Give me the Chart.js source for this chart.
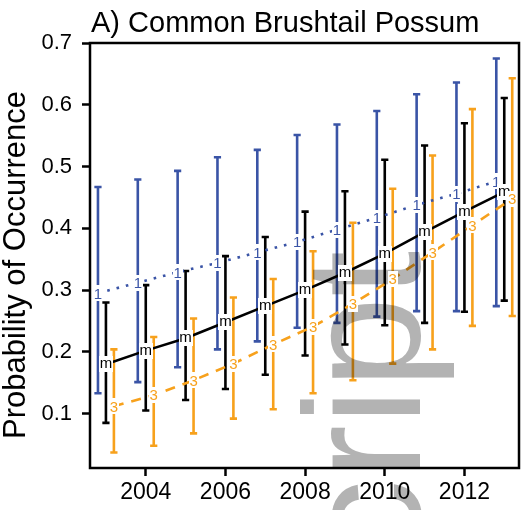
<!DOCTYPE html>
<html>
<head>
<meta charset="utf-8">
<script src="https://cdn.jsdelivr.net/npm/chart.js@4.4.1/dist/chart.umd.min.js"></script>
<style>
html,body{margin:0;padding:0;background:#fff;}
#wrap{width:522px;height:510px;}
</style>
</head>
<body>
<div id="wrap"><canvas id="c" width="522" height="510"></canvas></div>
<script>
// ---- data ----
const years = [2003, 2004, 2005, 2006, 2007, 2008, 2009, 2010, 2011, 2012, 2013];
const xTickValues = [2004, 2006, 2008, 2010, 2012];
const yTickValues = [0.1, 0.2, 0.3, 0.4, 0.5, 0.6, 0.7];
const titleText = 'A) Common Brushtail Possum';
const yAxisTitle = 'Probability of Occurrence';

// series "1" (blue, dotted)
const fit1 = [0.295, 0.312, 0.329, 0.344, 0.361, 0.378, 0.398, 0.417, 0.438, 0.456, 0.476];
const lo1  = [0.133, 0.151, 0.175, 0.204, 0.217, 0.239, 0.247, 0.257, 0.266, 0.266, 0.274];
const hi1  = [0.467, 0.479, 0.493, 0.515, 0.527, 0.551, 0.568, 0.590, 0.617, 0.636, 0.675];

// series "m" (black, solid)
const fitM = [0.180, 0.202, 0.222, 0.248, 0.274, 0.300, 0.328, 0.359, 0.394, 0.427, 0.459];
const loM  = [0.085, 0.105, 0.122, 0.140, 0.163, 0.194, 0.212, 0.243, 0.247, 0.265, 0.283];
const hiM  = [0.280, 0.308, 0.331, 0.355, 0.386, 0.427, 0.460, 0.511, 0.534, 0.570, 0.611];

// series "3" (orange, dashed)
const fit3 = [0.112, 0.130, 0.154, 0.181, 0.212, 0.241, 0.278, 0.318, 0.361, 0.405, 0.448];
const lo3  = [0.037, 0.048, 0.068, 0.092, 0.107, 0.133, 0.154, 0.181, 0.204, 0.242, 0.258];
const hi3  = [0.204, 0.224, 0.254, 0.288, 0.318, 0.363, 0.409, 0.464, 0.518, 0.593, 0.643];

const watermarkText = 'script';

// ---- styling ----
const BLUE = '#3a54a6';
const BLACK = '#000000';
const ORANGE = '#f7a11c';
const FONT = '"Liberation Sans", Arial, Helvetica, sans-serif';

function mk(fit, off) { return years.map((yr, i) => ({ x: yr + off, y: fit[i] })); }

const datasets = [
  { label: '1', data: mk(fit1, -0.2), lo: lo1, hi: hi1, off: -0.2, mark: '1',
    borderColor: BLUE, borderWidth: 2.6, borderDash: [2.6, 7], pointRadius: 0, tension: 0, fill: false },
  { label: 'm', data: mk(fitM, 0), lo: loM, hi: hiM, off: 0, mark: 'm',
    borderColor: BLACK, borderWidth: 2.6, borderDash: [], pointRadius: 0, tension: 0, fill: false },
  { label: '3', data: mk(fit3, 0.2), lo: lo3, hi: hi3, off: 0.2, mark: '3',
    borderColor: ORANGE, borderWidth: 2.6, borderDash: [10, 8], pointRadius: 0, tension: 0, fill: false }
];

const decor = {
  id: 'decor',
  beforeDraw(chart) {
    const { ctx, width, height } = chart;
    ctx.save();
    ctx.fillStyle = '#fff';
    ctx.fillRect(0, 0, width, height);
    ctx.restore();
  },
  beforeDatasetsDraw(chart) {
    const { ctx, scales: { x, y } } = chart;
    ctx.save();
    chart.data.datasets.forEach(ds => {
      ctx.strokeStyle = ds.borderColor;
      ctx.lineWidth = 2.6;
      ctx.lineCap = 'butt';
      years.forEach((yr, i) => {
        const px = x.getPixelForValue(yr + ds.off);
        const pl = y.getPixelForValue(ds.lo[i]);
        const ph = y.getPixelForValue(ds.hi[i]);
        ctx.beginPath();
        ctx.moveTo(px, pl); ctx.lineTo(px, ph);
        ctx.moveTo(px - 3.6, pl); ctx.lineTo(px + 3.6, pl);
        ctx.moveTo(px - 3.6, ph); ctx.lineTo(px + 3.6, ph);
        ctx.stroke();
      });
    });
    ctx.restore();
  },
  afterDatasetsDraw(chart) {
    const { ctx, scales: { x, y } } = chart;
    // watermark
    ctx.save();
    ctx.globalCompositeOperation = 'multiply';
    ctx.fillStyle = '#b3b3b3';
    ctx.font = '165px ' + FONT;
    ctx.translate(420, 645);
    ctx.rotate(-Math.PI / 2);
    ctx.textAlign = 'left';
    ctx.textBaseline = 'alphabetic';
    ctx.fillText(watermarkText, 0, 0);
    ctx.restore();
    // point labels with white knock-out boxes
    ctx.save();
    ctx.globalCompositeOperation = 'source-over';
    const fs = 15;
    ctx.font = fs + 'px ' + FONT;
    ctx.textAlign = 'center';
    ctx.textBaseline = 'alphabetic';
    chart.data.datasets.forEach(ds => {
      ds.data.forEach(p => {
        const px = x.getPixelForValue(p.x);
        const py = y.getPixelForValue(p.y);
        const w = Math.ceil(ctx.measureText(ds.mark).width) + 1;
        const bx = Math.round(px - w / 2);
        const by = Math.round(py - 8);
        ctx.fillStyle = '#ffffff';
        ctx.fillRect(bx, by, w, 16);
        ctx.fillStyle = ds.borderColor;
        const dy = ds.mark === 'm' ? 0.26 * fs : 0.358 * fs;
        ctx.fillText(ds.mark, px, py + dy);
      });
    });
    ctx.restore();
  },
  afterDraw(chart) {
    const { ctx, chartArea: a } = chart;
    ctx.save();
    ctx.strokeStyle = '#000';
    ctx.lineWidth = 2.5;
    ctx.strokeRect(a.left, a.top, a.right - a.left, a.bottom - a.top);
    // title
    ctx.fillStyle = '#000';
    ctx.font = '29px ' + FONT;
    ctx.textAlign = 'left';
    ctx.textBaseline = 'alphabetic';
    ctx.fillText(titleText, 91, 32);
    // y axis title
    ctx.font = '31px ' + FONT;
    ctx.translate(25, 265);
    ctx.rotate(-Math.PI / 2);
    ctx.textAlign = 'center';
    ctx.fillText(yAxisTitle, 0, 0);
    ctx.restore();
  }
};

new Chart(document.getElementById('c'), {
  type: 'line',
  data: { datasets },
  plugins: [decor],
  options: {
    responsive: false,
    animation: false,
    events: [],
    layout: { padding: { top: 43, right: 3, left: 0, bottom: 0 } },
    plugins: { legend: { display: false }, tooltip: { enabled: false }, title: { display: false } },
    scales: {
      x: {
        type: 'linear',
        min: 2002.6,
        max: 2013.37,
        afterFit(s) { s.height = 42; },
        afterBuildTicks(s) { s.ticks = xTickValues.map(v => ({ value: v })); },
        grid: { drawOnChartArea: false, drawTicks: true, tickLength: 8, tickWidth: 2.5, tickColor: '#000' },
        border: { display: false },
        ticks: { color: '#000', font: { family: FONT, size: 23 }, padding: 3, maxRotation: 0,
                 callback: v => String(v) }
      },
      y: {
        type: 'linear',
        min: 0.012,
        max: 0.7,
        afterFit(s) { s.width = 90; },
        afterBuildTicks(s) { s.ticks = yTickValues.map(v => ({ value: v })); },
        grid: { drawOnChartArea: false, drawTicks: true, tickLength: 8, tickWidth: 2.5, tickColor: '#000' },
        border: { display: false },
        ticks: { color: '#000', font: { family: FONT, size: 22 }, padding: 10,
                 callback: v => v.toFixed(1) }
      }
    }
  }
});
</script>
</body>
</html>
